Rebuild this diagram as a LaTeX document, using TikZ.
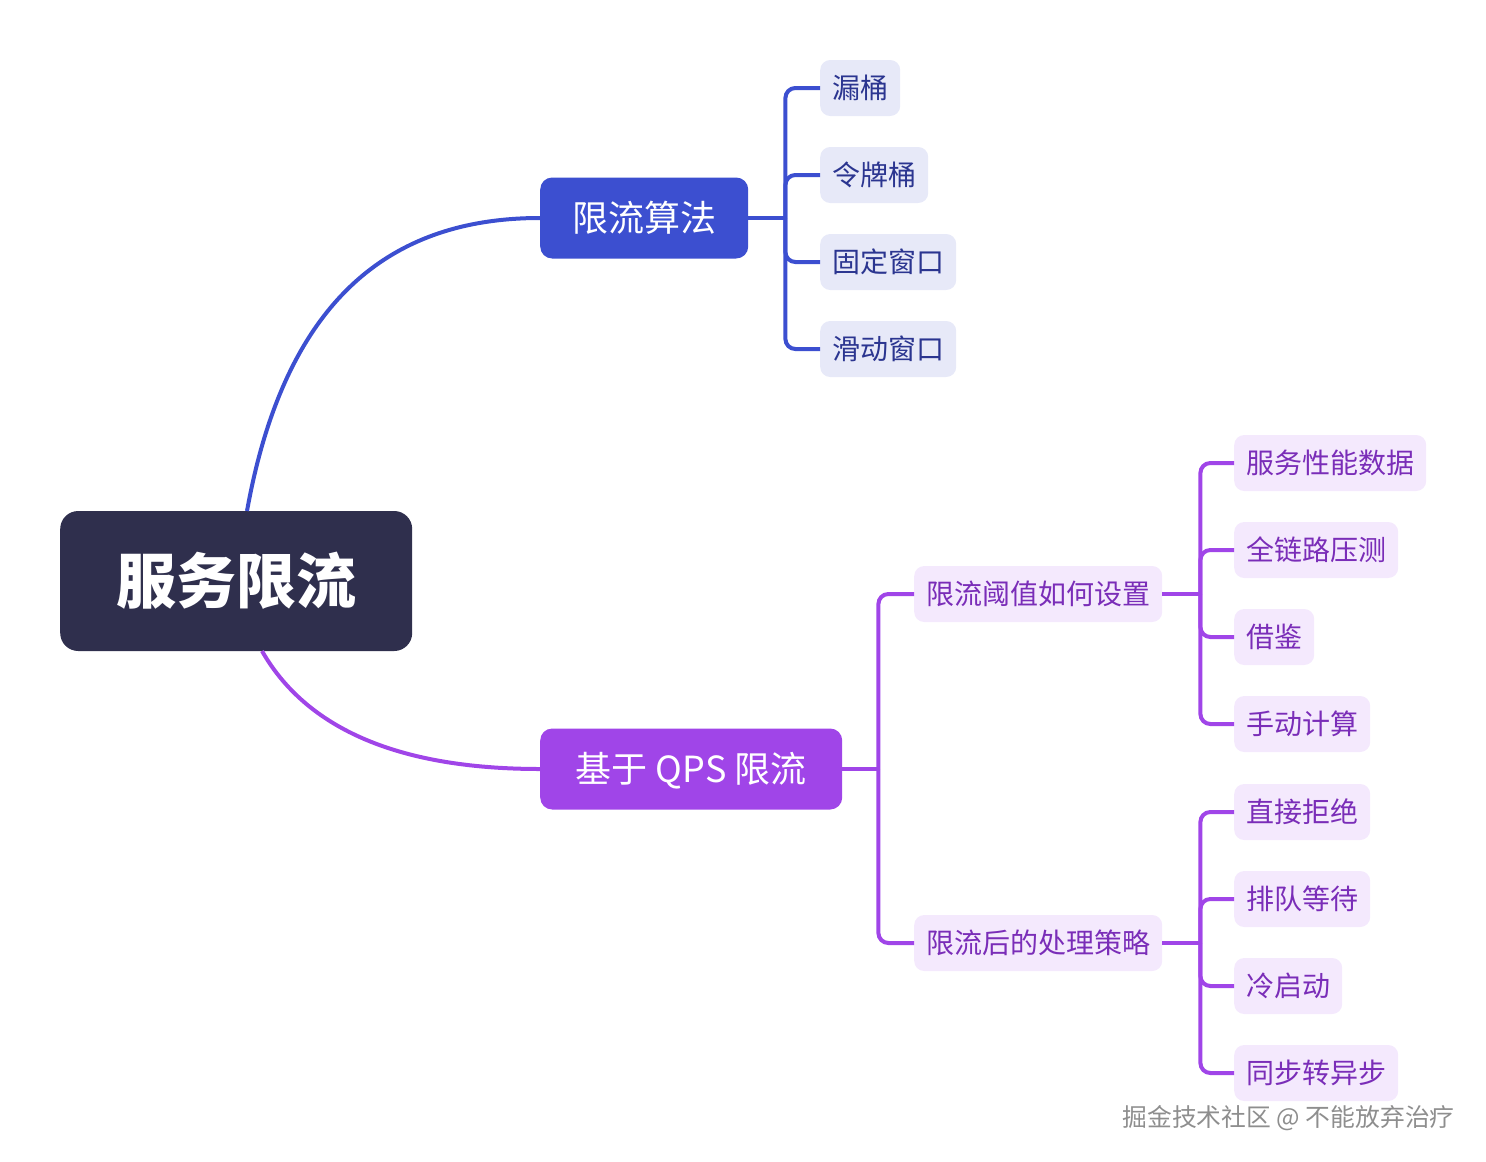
\documentclass[tikz,border=0pt]{standalone}
\usepackage{fontspec}
\setmainfont{Noto Sans CJK SC}
\definecolor{rootc}{HTML}{2F2F4D}
\definecolor{bluec}{HTML}{3C4FD0}
\definecolor{bluel}{HTML}{E7E9F8}
\definecolor{bluet}{HTML}{2B3590}
\definecolor{purc}{HTML}{A045E8}
\definecolor{purl}{HTML}{F4E9FD}
\definecolor{purt}{HTML}{7A2DB8}
\definecolor{wmc}{HTML}{8E8E8E}
\tikzset{
  base/.style={anchor=west, inner ysep=0pt},
  rootbox/.style={base, fill=rootc, text=white, rounded corners=18pt, inner xsep=56pt,
     minimum height=140pt, text height=52.8pt, text depth=7.2pt,
     font=\fontsize{60}{70}\selectfont\bfseries},
  mainbox/.style={base, rounded corners=12pt, inner xsep=32pt, minimum height=81pt,
     text height=31.7pt, text depth=4.3pt,
     text=white, font=\fontsize{36}{42}\selectfont},
  leafbox/.style={base, rounded corners=10pt, inner xsep=12pt, minimum height=56pt,
     text height=24.6pt, text depth=3.4pt,
     font=\fontsize{28}{34}\selectfont},
  bleaf/.style={leafbox, fill=bluel, text=bluet},
  pleaf/.style={leafbox, fill=purl, text=purt},
  bline/.style={draw=bluec, line width=4pt, rounded corners=10pt},
  pline/.style={draw=purc, line width=4pt, rounded corners=10pt},
}
\begin{document}
\begin{tikzpicture}[x=1pt, y=-1pt]
\useasboundingbox (0,0) rectangle (1486,1162);

% nodes
\node[rootbox] (root) at (60,581) {服务限流};
\node[mainbox, fill=bluec, minimum width=208pt] (alg) at (540,218) {限流算法};
\node[mainbox, fill=purc, minimum width=302pt] (qps) at (540,769) {基于 QPS 限流};

\node[bleaf] (b1) at (820,88) {漏桶};
\node[bleaf] (b2) at (820,175) {令牌桶};
\node[bleaf] (b3) at (820,262) {固定窗口};
\node[bleaf] (b4) at (820,349) {滑动窗口};

\node[pleaf] (m1) at (914,594) {限流阈值如何设置};
\node[pleaf] (m2) at (914,943) {限流后的处理策略};

\node[pleaf] (p1) at (1234,463) {服务性能数据};
\node[pleaf] (p2) at (1234,550) {全链路压测};
\node[pleaf] (p3) at (1234,637) {借鉴};
\node[pleaf] (p4) at (1234,724) {手动计算};

\node[pleaf] (q1) at (1234,812) {直接拒绝};
\node[pleaf] (q2) at (1234,899) {排队等待};
\node[pleaf] (q3) at (1234,986) {冷启动};
\node[pleaf] (q4) at (1234,1073) {同步转异步};

\node[anchor=west, text=wmc, font=\fontsize{24.8}{28}\selectfont] (wm) at (1119,1118) {掘金技术社区 @ 不能放弃治疗};

% curves from root
\draw[draw=bluec, line width=4pt] (247,511) .. controls (285,300) and (390,218) .. (alg.west);
\draw[draw=purc, line width=4pt] (262,651) .. controls (310,735) and (410,769) .. (qps.west);

% blue branches
\coordinate (ja) at ([xshift=37pt]alg.east);
\draw[draw=bluec, line width=4pt] (alg.east) -- (ja);
\foreach \n in {b1,b2,b3,b4} \draw[bline] (ja) |- (\n.west);

% purple branches
\coordinate (jq) at ([xshift=36pt]qps.east);
\draw[draw=purc, line width=4pt] (qps.east) -- (jq);
\foreach \n in {m1,m2} \draw[pline] (jq) |- (\n.west);

\coordinate (jm1) at ([xshift=38pt]m1.east);
\draw[draw=purc, line width=4pt] (m1.east) -- (jm1);
\foreach \n in {p1,p2,p3,p4} \draw[pline] (jm1) |- (\n.west);

\coordinate (jm2) at ([xshift=38pt]m2.east);
\draw[draw=purc, line width=4pt] (m2.east) -- (jm2);
\foreach \n in {q1,q2,q3,q4} \draw[pline] (jm2) |- (\n.west);
\end{tikzpicture}
\end{document}
